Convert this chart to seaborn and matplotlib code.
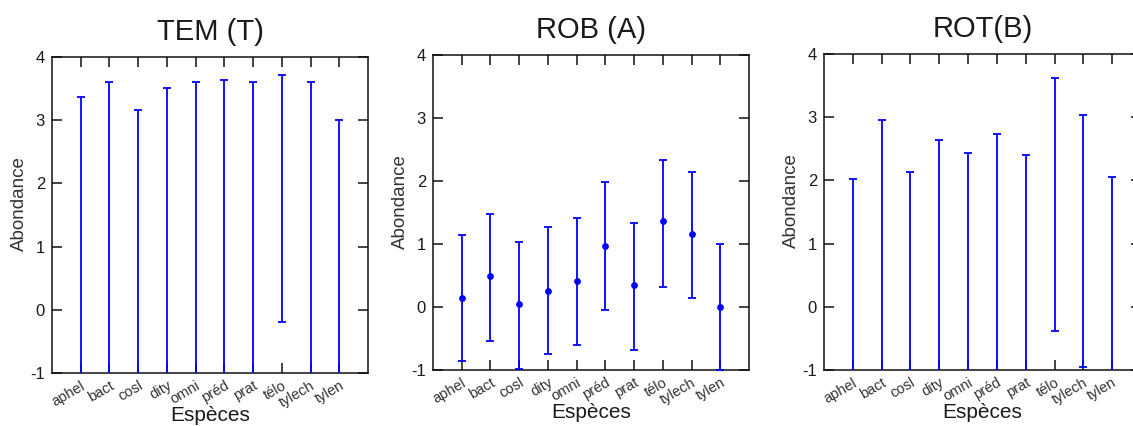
import numpy as np
import matplotlib
matplotlib.use("Agg")
import matplotlib.pyplot as plt
import seaborn as sns

categories = ["aphel", "bact", "cosl", "dity", "omni", "préd", "prat", "télo", "tylech", "tylen"]

# TEM (T): only the upper parts of the error bars are visible (lower ends below -1)
tem_low = [-1.5, -1.5, -1.5, -1.5, -1.5, -1.5, -1.5, -0.19, -1.2, -1.5]
tem_high = [3.37, 3.61, 3.16, 3.51, 3.61, 3.64, 3.61, 3.71, 3.61, 3.00]

# ROB (A): means with error bars
rob_mean = [0.14, 0.50, 0.04, 0.26, 0.41, 0.97, 0.35, 1.36, 1.16, 0.00]
rob_low = [-0.86, -0.54, -0.99, -0.74, -0.60, -0.04, -0.69, 0.32, 0.14, -1.00]
rob_high = [1.15, 1.48, 1.03, 1.27, 1.41, 1.98, 1.33, 2.34, 2.15, 1.00]

# ROT(B)
rot_low = [-1.5, -1.5, -1.5, -1.5, -1.5, -1.5, -1.5, -0.38, -0.95, -1.5]
rot_high = [2.03, 2.95, 2.14, 2.64, 2.43, 2.73, 2.40, 3.62, 3.03, 2.05]

titles = ["TEM (T)", "ROB (A)", "ROT(B)"]
yticks = [-1, 0, 1, 2, 3, 4]

sns.set_theme(style="ticks")
plt.rcParams["font.family"] = ["Liberation Sans", "DejaVu Sans"]

BLUE = "#0000ff"
TXT = "#1a1a1a"

fig = plt.figure(figsize=(11.33, 4.26), dpi=100)
W, H = 1133, 426
boxes = [(52, 57, 316, 316), (433, 55, 316, 315), (824, 54, 317, 316)]
axes = [fig.add_axes([l / W, (H - t - h) / H, w / W, h / H]) for (l, t, w, h) in boxes]

pos = np.arange(1, len(categories) + 1)

def draw_bars(ax, low, high, mean=None):
    low = np.asarray(low, float)
    high = np.asarray(high, float)
    if mean is None:
        center = (low + high) / 2
        yerr = (high - low) / 2
        ax.errorbar(pos, center, yerr=yerr, fmt="none", ecolor=BLUE,
                    elinewidth=1.3, capsize=2.8, capthick=1.3, zorder=3)
    else:
        m = np.asarray(mean, float)
        ax.errorbar(pos, m, yerr=[m - low, high - m], fmt="none", ecolor=BLUE,
                    elinewidth=1.3, capsize=2.8, capthick=1.3, zorder=3)
        sns.scatterplot(x=pos, y=m, ax=ax, color=BLUE, s=24, edgecolor=BLUE,
                        linewidth=0, zorder=4, legend=False)

draw_bars(axes[0], tem_low, tem_high)
draw_bars(axes[1], rob_low, rob_high, rob_mean)
draw_bars(axes[2], rot_low, rot_high)

for ax, title in zip(axes, titles):
    ax.set_xlim(0, len(categories) + 1)
    ax.set_ylim(-1, 4)
    ax.set_xticks(pos)
    ax.set_xticklabels(categories, rotation=30, ha="right", rotation_mode="anchor",
                       fontsize=10.5, color="#333333")
    ax.set_yticks(yticks)
    ax.set_yticklabels([str(v) for v in yticks], fontsize=12, color=TXT)
    ax.tick_params(axis="both", direction="in", length=7, width=1.1, color="#111111",
                   top=True, right=True)
    ax.tick_params(axis="x", pad=4)
    ax.tick_params(axis="y", pad=5)
    for s in ax.spines.values():
        s.set_visible(True)
        s.set_linewidth(1.1)
        s.set_color("#111111")
    ax.set_title(title, fontsize=21, pad=12, color=TXT)
    ax.set_xlabel("Espèces", fontsize=15, color=TXT)
    ax.set_ylabel("Abondance", fontsize=13.5, color="#333333")
    ax.xaxis.set_label_coords(0.5, -0.104)
    ax.yaxis.set_label_coords(-0.077, 0.535)
    ax.grid(False)
    ax.set_facecolor("white")

fig.savefig("out.png", dpi=100, facecolor="white")
